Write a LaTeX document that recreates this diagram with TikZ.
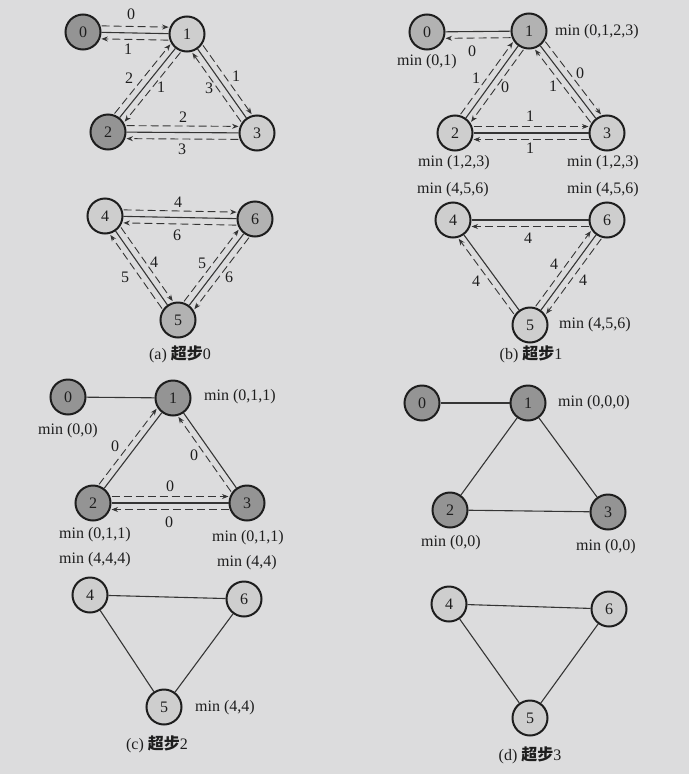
\documentclass[tikz,border=0pt]{standalone}
\usepackage{fontspec}
\setmainfont{Liberation Serif}
\newfontfamily\cjk{Noto Sans CJK SC}
\usetikzlibrary{calc,arrows.meta}
\definecolor{bgc}{RGB}{220,220,221}
\definecolor{ink}{RGB}{30,30,30}
\definecolor{vdk}{RGB}{148,148,148}
\definecolor{vmd}{RGB}{178,178,178}
\definecolor{vlt}{RGB}{206,206,206}
\newcommand\msg[3][6.5pt]{\draw[msgst] ($(#2)!18.5pt!(#3)!#1!90:(#3)$) -- ($(#3)!18.5pt!(#2)!#1!-90:(#2)$);}
\begin{document}
\begin{tikzpicture}[x=1pt,y=-1pt,
  vtx/.style={circle,draw=ink,line width=2pt,minimum size=35pt,inner sep=0pt,font=\fontsize{16}{19}\selectfont,text=ink},
  vd/.style={vtx,fill=vdk},
  vm/.style={vtx,fill=vmd},
  vl/.style={vtx,fill=vlt},
  conn/.style={draw=ink!90,line width=1.1pt},
  msgst/.style={draw=ink!90,line width=0.9pt,dash pattern=on 8pt off 4pt,-{Stealth[length=6.5pt,width=5pt]}},
  lbl/.style={font=\fontsize{16}{19}\selectfont,text=ink,inner sep=1pt},
  captxt/.style={font=\fontsize{16}{19}\selectfont,text=ink,inner sep=1pt}]
\fill[bgc] (0,0) rectangle (689,774);
\useasboundingbox (0,0) rectangle (689,774);
% ---------------- (a) ----------------
\node[vd] (a0) at (83,32) {0};
\node[vl] (a1) at (187,34) {1};
\node[vd] (a2) at (108,132) {2};
\node[vl] (a3) at (257,133) {3};
\node[vl] (a4) at (105,216) {4};
\node[vm] (a6) at (255,219) {6};
\node[vm] (a5) at (178,320) {5};
\draw[conn] (a0) -- (a1);
\draw[conn] (a1) -- (a2);
\draw[conn] (a1) -- (a3);
\draw[conn] (a2) -- (a3);
\draw[conn] (a4) -- (a6);
\draw[conn] (a4) -- (a5);
\draw[conn] (a5) -- (a6);
\msg{a0}{a1}\msg{a1}{a0}
\msg{a2}{a1}\msg{a1}{a2}
\msg{a1}{a3}\msg{a3}{a1}
\msg{a2}{a3}\msg{a3}{a2}
\msg{a4}{a6}\msg{a6}{a4}
\msg{a4}{a5}\msg{a5}{a4}
\msg{a5}{a6}\msg{a6}{a5}
\node[lbl] (la1) at (131,14) {0};
\node[lbl] (la2) at (128,49) {1};
\node[lbl] (la3) at (129,78) {2};
\node[lbl] (la4) at (161,87) {1};
\node[lbl] (la5) at (236,76) {1};
\node[lbl] (la6) at (209,88) {3};
\node[lbl] (la7) at (183,117) {2};
\node[lbl] (la8) at (182,149) {3};
\node[lbl] (la9) at (178,202) {4};
\node[lbl] (la10) at (177,235) {6};
\node[lbl] (la11) at (154,262) {4};
\node[lbl] (la12) at (125,277) {5};
\node[lbl] (la13) at (202,263) {5};
\node[lbl] (la14) at (229,277) {6};
\node[captxt] (capa) at (180,354) {(a) {\cjk\bfseries 超步}0};
% ---------------- (b) ----------------
\node[vm] (b0) at (427,32) {0};
\node[vm] (b1) at (529,31) {1};
\node[vl] (b2) at (455,133) {2};
\node[vl] (b3) at (607,133) {3};
\node[vl] (b4) at (453,220) {4};
\node[vl] (b6) at (607,220) {6};
\node[vl] (b5) at (530,325) {5};
\draw[conn] (b0) -- (b1);
\draw[conn] (b1) -- (b2);
\draw[conn] (b1) -- (b3);
\draw[conn] (b2) -- (b3);
\draw[conn] (b4) -- (b6);
\draw[conn] (b4) -- (b5);
\draw[conn] (b5) -- (b6);
\msg{b1}{b0}
\msg{b2}{b1}\msg{b1}{b2}
\msg{b1}{b3}\msg{b3}{b1}
\msg{b2}{b3}\msg{b3}{b2}
\msg{b6}{b4}
\msg{b5}{b4}
\msg{b5}{b6}\msg{b6}{b5}
\node[lbl] (lb1) at (597,32) {min (0,1,2,3)};
\node[lbl] (lb2) at (427,62) {min (0,1)};
\node[lbl] (lb3) at (472,51) {0};
\node[lbl] (lb4) at (476,78) {1};
\node[lbl] (lb5) at (505,87) {0};
\node[lbl] (lb6) at (580,73) {0};
\node[lbl] (lb7) at (553,86) {1};
\node[lbl] (lb8) at (530,116) {1};
\node[lbl] (lb9) at (530,148) {1};
\node[lbl] (lb10) at (454,163) {min (1,2,3)};
\node[lbl] (lb11) at (603,163) {min (1,2,3)};
\node[lbl] (lb12) at (453,190) {min (4,5,6)};
\node[lbl] (lb13) at (603,190) {min (4,5,6)};
\node[lbl] (lb14) at (528,238) {4};
\node[lbl] (lb15) at (476,281) {4};
\node[lbl] (lb16) at (554,264) {4};
\node[lbl] (lb17) at (583,280) {4};
\node[lbl] (lb18) at (595,325) {min (4,5,6)};
\node[captxt] (capb) at (531,354) {(b) {\cjk\bfseries 超步}1};
% ---------------- (c) ----------------
\node[vd] (c0) at (68,397) {0};
\node[vd] (c1) at (173,398) {1};
\node[vd] (c2) at (93,503) {2};
\node[vd] (c3) at (247,503) {3};
\node[vl] (c4) at (90,595) {4};
\node[vl] (c6) at (244,599) {6};
\node[vl] (c5) at (164,707) {5};
\draw[conn] (c0) -- (c1);
\draw[conn] (c1) -- (c2);
\draw[conn] (c1) -- (c3);
\draw[conn] (c2) -- (c3);
\draw[conn] (c4) -- (c6);
\draw[conn] (c4) -- (c5);
\draw[conn] (c5) -- (c6);
\msg{c2}{c1}
\msg{c3}{c1}
\msg{c2}{c3}\msg{c3}{c2}
\node[lbl] (lc1) at (240,397) {min (0,1,1)};
\node[lbl] (lc2) at (68,431) {min (0,0)};
\node[lbl] (lc3) at (115,446) {0};
\node[lbl] (lc4) at (194,455) {0};
\node[lbl] (lc5) at (170,486) {0};
\node[lbl] (lc6) at (169,522) {0};
\node[lbl] (lc7) at (95,535) {min (0,1,1)};
\node[lbl] (lc8) at (248,538) {min (0,1,1)};
\node[lbl] (lc9) at (95,560) {min (4,4,4)};
\node[lbl] (lc10) at (247,563) {min (4,4)};
\node[lbl] (lc11) at (225,708) {min (4,4)};
\node[captxt] (capc) at (157,744) {(c) {\cjk\bfseries 超步}2};
% ---------------- (d) ----------------
\node[vd] (d0) at (422,403) {0};
\node[vd] (d1) at (528,403) {1};
\node[vd] (d2) at (450,510) {2};
\node[vd] (d3) at (608,512) {3};
\node[vl] (d4) at (449,604) {4};
\node[vl] (d6) at (609,609) {6};
\node[vl] (d5) at (530,718) {5};
\draw[conn] (d0) -- (d1);
\draw[conn] (d1) -- (d2);
\draw[conn] (d1) -- (d3);
\draw[conn] (d2) -- (d3);
\draw[conn] (d4) -- (d6);
\draw[conn] (d4) -- (d5);
\draw[conn] (d5) -- (d6);
\node[lbl] (ld1) at (594,403) {min (0,0,0)};
\node[lbl] (ld2) at (451,543) {min (0,0)};
\node[lbl] (ld3) at (606,547) {min (0,0)};
\node[captxt] (capd) at (530,755) {(d) {\cjk\bfseries 超步}3};
\end{tikzpicture}
\end{document}
